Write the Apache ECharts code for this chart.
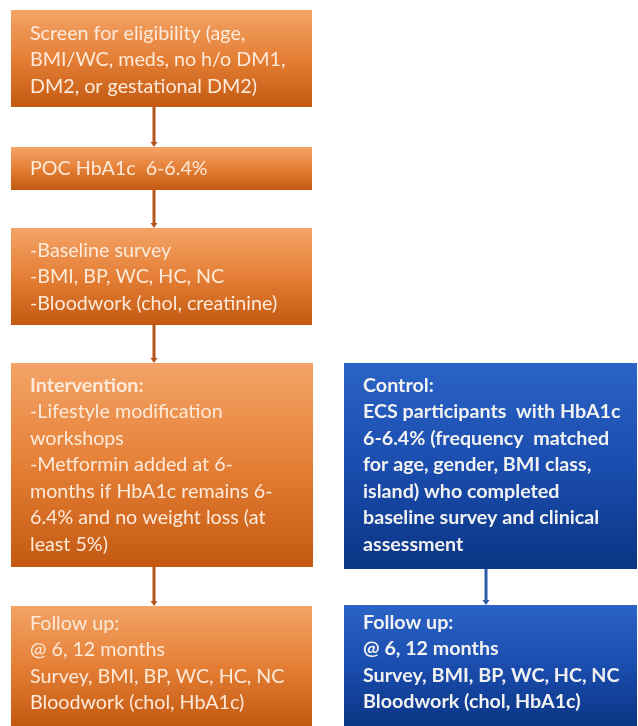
<!DOCTYPE html>
<html>
<head>
<meta charset="utf-8">
<script src="https://cdn.jsdelivr.net/npm/echarts@6/dist/echarts.min.js"></script>
<style>html,body{margin:0;padding:0;background:#fff;}#c{width:638px;height:726px;}</style>
</head>
<body>
<div id="c"></div>
<script>
// ---- content (data) ----
const boxIds = ['screen', 'poc', 'baseline', 'intervention', 'control', 'followI', 'followC'];
const boxTexts = [
  'Screen for eligibility (age,\nBMI/WC, meds, no h/o DM1,\nDM2, or gestational DM2)',
  'POC HbA1c  6-6.4%',
  '-Baseline survey\n-BMI, BP, WC, HC, NC\n-Bloodwork (chol, creatinine)',
  '{b|Intervention:}\n-Lifestyle modification\nworkshops\n-Metformin added at 6-\nmonths if HbA1c remains 6-\n6.4% and no weight loss (at\nleast 5%)',
  'Control:\nECS participants  with HbA1c\n6-6.4% (frequency  matched\nfor age, gender, BMI class,\nisland) who completed\nbaseline survey and clinical\nassessment',
  'Follow up:\n@ 6, 12 months\nSurvey, BMI, BP, WC, HC, NC\nBloodwork (chol, HbA1c)',
  'Follow up:\n@ 6, 12 months\nSurvey, BMI, BP, WC, HC, NC\nBloodwork (chol, HbA1c)'
];
const boxGroups = ['orange', 'orange', 'orange', 'orange', 'blue', 'orange', 'blue'];
const links = [['screen', 'poc'], ['poc', 'baseline'], ['baseline', 'intervention'], ['intervention', 'followI'], ['control', 'followC']];

// ---- layout (positions / sizes) ----
const layout = {
  screen:       [11, 10, 312, 107],
  poc:          [11, 147, 312, 190],
  baseline:     [11, 228, 312, 325],
  intervention: [11, 363, 313, 567],
  control:      [344, 363, 637, 569],
  followI:      [11, 606, 312, 726],
  followC:      [344, 605, 637, 726]
};
const textOffset = { screen: 10, poc: 0, baseline: 9, intervention: 9, control: 9, followI: 4, followC: 4 };
const linkX = { orange: 154, blue: 486 };

// ---- styles ----
const styles = {
  orange: { top: '#F3A467', mid: '#E57F36', bottom: '#C35910', text: '#FDEADB', line: '#B5541A', weight: 'normal' },
  blue:   { top: '#2B63C6', mid: '#1A4DAE', bottom: '#0B3584', text: '#F2F2F2', line: '#2D5DA6', weight: 'bold' }
};
const FONT = 'Lato, "Open Sans", sans-serif';
const FS = 19.7;
const LH = 26.5;

const chart = echarts.init(document.getElementById('c'), null, { renderer: 'canvas' });

const boxData = boxIds.map((id, i) => ({ value: layout[id].concat([i]) }));
const linkData = links.map(([a, b]) => {
  const g = boxGroups[boxIds.indexOf(a)];
  return { value: [linkX[g], layout[a][3], layout[b][1], boxIds.indexOf(a)] };
});

chart.setOption({
  animation: false,
  grid: { left: 0, right: 0, top: 0, bottom: 0 },
  xAxis: { type: 'value', min: 0, max: 638, show: false },
  yAxis: { type: 'value', min: 0, max: 726, inverse: true, show: false },
  series: [
    {
      type: 'custom',
      data: boxData,
      renderItem: function (params, api) {
        const i = api.value(4);
        const id = boxIds[i];
        const st = styles[boxGroups[i]];
        const p0 = api.coord([api.value(0), api.value(1)]);
        const p1 = api.coord([api.value(2), api.value(3)]);
        const w = p1[0] - p0[0], h = p1[1] - p0[1];
        const nLines = boxTexts[i].split('\n').length;
        let ty;
        if (textOffset[id] === 0) ty = p0[1] + h / 2 - (nLines * LH) / 2;
        else ty = p0[1] + textOffset[id];
        return {
          type: 'group',
          children: [
            {
              type: 'rect',
              shape: { x: p0[0], y: p0[1], width: w, height: h },
              style: {
                fill: new echarts.graphic.LinearGradient(0, 0, 0, 1, [
                  { offset: 0, color: st.top },
                  { offset: 0.5, color: st.mid },
                  { offset: 1, color: st.bottom }
                ])
              }
            },
            {
              type: 'text',
              style: {
                text: boxTexts[i],
                x: p0[0] + 19,
                y: ty,
                fill: st.text,
                fontFamily: FONT,
                fontSize: FS,
                fontWeight: st.weight,
                lineHeight: LH,
                align: 'left',
                verticalAlign: 'top',
                rich: { b: { fontWeight: 'bold', fontFamily: FONT, fontSize: FS, fill: st.text, lineHeight: LH } }
              }
            }
          ]
        };
      }
    },
    {
      type: 'custom',
      data: linkData,
      z: 3,
      renderItem: function (params, api) {
        const st = styles[boxGroups[api.value(3)]];
        const a = api.coord([api.value(0), api.value(1)]);
        const b = api.coord([api.value(0), api.value(2)]);
        return {
          type: 'group',
          children: [
            { type: 'line', shape: { x1: a[0], y1: a[1], x2: b[0], y2: b[1] - 3 }, style: { stroke: st.line, lineWidth: 3 } },
            { type: 'polygon', shape: { points: [[b[0] - 3.5, b[1] - 5], [b[0] + 3.5, b[1] - 5], [b[0], b[1]]] }, style: { fill: st.line } }
          ]
        };
      }
    }
  ]
});
</script>
</body>
</html>
